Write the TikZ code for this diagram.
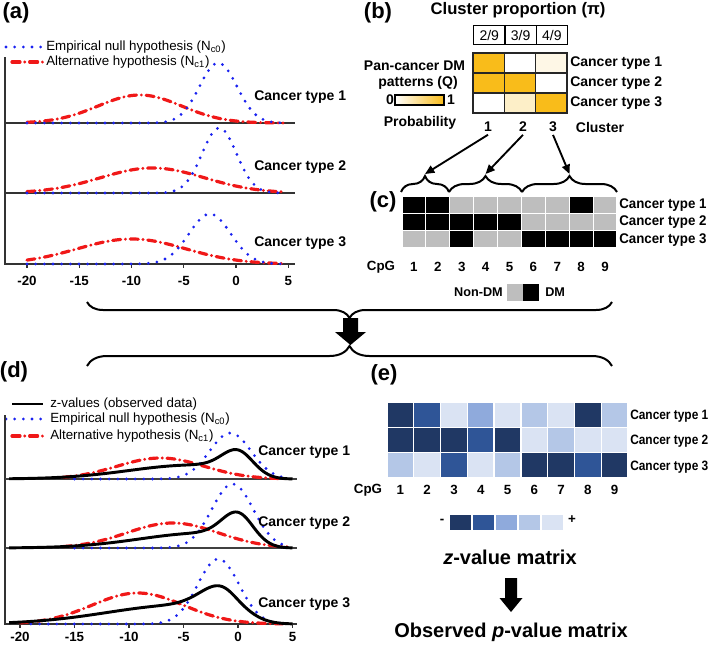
\documentclass[tikz,border=0pt]{standalone}
\usepackage{fontspec}
\setmainfont{Liberation Sans}
\usetikzlibrary{decorations.pathreplacing,arrows.meta}
\definecolor{qorange}{HTML}{F9BC1A}
\definecolor{qpale}{HTML}{FDEFC8}
\definecolor{qvpale}{HTML}{FEF7E6}
\definecolor{dmgray}{HTML}{BEBEBE}
\definecolor{zA}{HTML}{203864}
\definecolor{zB}{HTML}{2F5597}
\definecolor{zC}{HTML}{8FAADC}
\definecolor{zD}{HTML}{B4C7E7}
\definecolor{zE}{HTML}{DAE3F3}
\definecolor{nullblue}{HTML}{1A22F0}
\definecolor{altred}{HTML}{F01818}
\begin{document}
\begin{tikzpicture}[x=0.75pt,y=-0.75pt,
  panel/.style={font=\fontsize{16.5}{18}\selectfont\bfseries, inner sep=0},
  lgd/.style={font=\fontsize{10}{12}\selectfont, anchor=west, inner sep=0},
  ctype/.style={font=\fontsize{10.5}{12}\selectfont\bfseries, anchor=west, inner sep=0},
  blab/.style={font=\fontsize{10.5}{12}\selectfont\bfseries, inner sep=0},
  tick/.style={font=\fontsize{10}{12}\selectfont\bfseries, inner sep=0},
  big/.style={font=\fontsize{15}{18}\selectfont\bfseries, inner sep=0},
  nullc/.style={draw=nullblue, line width=2.3pt, line cap=round, dash pattern=on 0pt off 6.5pt},
  altc/.style={draw=altred, line width=2.4pt, line cap=round, dash pattern=on 6pt off 3.6pt on 0pt off 3.6pt},
  obsc/.style={draw=black, line width=2.2pt},
  axisl/.style={draw=black!80, line width=0.8pt},
  bracel/.style={draw=black, line width=1.5pt, decorate},
  clarrow/.style={-{Triangle[length=7pt,width=6pt]}, line width=1.4pt},
  qgrid/.style={line width=1.1pt, draw=black!85},
]
\useasboundingbox (0,0) rectangle (709,646);

%================ (a) =================
\node[panel] (la) at (16,13) {(a)};
\draw[nullc] (6,47) -- (43,47);
\node[lgd] (la1) at (46,47) {Empirical null hypothesis (N\textsubscript{c0})};
\draw[altc] (12,62) -- (43,62);
\node[lgd] (la2) at (46,62) {Alternative hypothesis (N\textsubscript{c1})};
\draw[axisl] (5,57) -- (5,264) -- (295,264);
\draw[axisl] (5,123) -- (295,123);
\draw[axisl] (5,193) -- (295,193);
\foreach \z [count=\i] in {-20,-15,-10,-5,0,5} {
  \draw[axisl] ({236+10.45*\z},264) -- ++(0,4);
  \node[tick] (ta\i) at ({236+10.45*\z},281) {\z};
}
% panel 1
\draw[altc] plot[domain=-20:4.5,samples=120,smooth] ({236+10.45*\x},{123-28*exp(-0.5*((\x+9.2)/4)^2)});
\draw[nullc] plot[domain=-20:4.5,samples=120,smooth] ({236+10.45*\x},{123-60*exp(-0.5*((\x+1.7)/1.8)^2)});
% panel 2
\draw[altc] plot[domain=-20:4.5,samples=120,smooth] ({236+10.45*\x},{193-25*exp(-0.5*((\x+8)/5)^2)});
\draw[nullc] plot[domain=-20:4.5,samples=120,smooth] ({236+10.45*\x},{193-65*exp(-0.5*((\x+1.6)/1.65)^2)});
% panel 3
\draw[altc] plot[domain=-20:4.5,samples=120,smooth] ({236+10.45*\x},{264-25*exp(-0.5*((\x+10)/5.2)^2)});
\draw[nullc] plot[domain=-20:4.5,samples=120,smooth] ({236+10.45*\x},{264-50*exp(-0.5*((\x+2.5)/2)^2)});
\node[ctype] (a1) at (254,97) {Cancer type 1};
\node[ctype] (a2) at (254,167) {Cancer type 2};
\node[ctype] (a3) at (254,243) {Cancer type 3};

%================ (b) =================
\node[panel] (lb) at (378,13) {(b)};
\node[font=\fontsize{12.5}{14}\selectfont\bfseries, inner sep=0] (cp) at (518,10) {Cluster proportion (π)};
\foreach \t [count=\i] in {2/9,3/9,4/9} {
  \node[draw, line width=0.9pt, minimum width=31.33*0.75pt, minimum height=19*0.75pt, inner sep=0,
        font=\fontsize{10.5}{12}\selectfont, anchor=north west] (pr\i) at ({473+(\i-1)*31.33},25) {\t};
}
\foreach \cl [count=\r] in {{qorange,white,qvpale},{qorange,qorange,white},{white,qpale,qorange}} {
  \foreach \cc [count=\c] in \cl {
    \fill[\cc] ({473+(\c-1)*31.33},{53+(\r-1)*20}) rectangle ++(31.33,20);
  }
}
\draw[qgrid] (504.33,53) -- (504.33,113);
\draw[qgrid] (535.67,53) -- (535.67,113);
\draw[qgrid] (473,73) -- (567,73);
\draw[qgrid] (473,93) -- (567,93);
\draw[qgrid] (473,53) rectangle (567,113);
\node[ctype] (b1) at (570,63) {Cancer type 1};
\node[ctype] (b2) at (570,83) {Cancer type 2};
\node[ctype] (b3) at (570,103) {Cancer type 3};
\node[blab] (pq1) at (414.5,66) {Pan-cancer DM};
\node[blab] (pq2) at (418,83) {patterns (Q)};
\node[blab] (z0) at (390,100) {0};
\shade[left color=white, right color=qorange] (395,95) rectangle (444,105);
\draw[line width=0.8pt] (395,95) rectangle (444,105);
\node[blab] (z1) at (451,100) {1};
\node[blab] (prob) at (420,123) {Probability};
\node[blab] (cl1) at (488,127) {1};
\node[blab] (cl2) at (523,127) {2};
\node[blab] (cl3) at (553,127) {3};
\node[blab] (clt) at (600,127) {Cluster};

%================ (c) =================
\node[panel] (lc) at (383,202) {(c)};
\draw[bracel, decoration={brace, amplitude=12pt}] (401,192) -- (449,192);
\draw[bracel, decoration={brace, amplitude=12pt}] (449,192) -- (522,192);
\draw[bracel, decoration={brace, amplitude=12pt}] (522,192) -- (617,192);
\coordinate (br1) at (425,174);
\coordinate (br2) at (485.5,174);
\coordinate (br3) at (569.5,174);
\draw[clarrow] ([yshift=-2pt]cl1.south) -- (br1);
\draw[clarrow] ([yshift=-2pt]cl2.south) -- (br2);
\draw[clarrow] ([yshift=-2pt]cl3.south) -- (br3);
\foreach \cl [count=\r] in {{black,black,dmgray,dmgray,dmgray,dmgray,dmgray,black,dmgray},
                           {black,black,black,black,black,dmgray,dmgray,dmgray,dmgray},
                           {dmgray,dmgray,black,dmgray,dmgray,black,black,black,black}} {
  \foreach \cc [count=\c] in \cl {
    \fill[\cc, draw=white, line width=0.8pt] ({402+(\c-1)*23.89},{196+(\r-1)*17.33}) rectangle ++(23.89,17.33);
  }
}
\node[ctype] (c1) at (619,205) {\scalebox{0.95}[1]{Cancer type 1}};
\node[ctype] (c2) at (619,222) {\scalebox{0.95}[1]{Cancer type 2}};
\node[ctype] (c3) at (619,240) {\scalebox{0.95}[1]{Cancer type 3}};
\node[tick] (cpgc) at (381,267) {CpG};
\foreach \i in {1,...,9} {
  \node[tick] (cn\i) at ({402+(\i-0.5)*23.89},267) {\i};
}
\node[tick, anchor=east, font=\fontsize{9.5}{11}\selectfont\bfseries] (ndm) at (503,292) {Non-DM};
\fill[dmgray] (507,284) rectangle (523,301);
\fill[black] (523,284) rectangle (539,301);
\node[tick, anchor=west, font=\fontsize{9.5}{11}\selectfont\bfseries] (dm) at (545,292) {DM};

%================ middle braces and arrow =================
\draw[bracel, decoration={brace, amplitude=12pt}] (612,302) -- (87,302);
\fill (343,318) -- (358,318) -- (358,332) -- (366,332) -- (350.5,345) -- (335,332) -- (343,332) -- cycle;
\draw[bracel, decoration={brace, amplitude=15pt}] (87,366) -- (612,366);

%================ (d) =================
\node[panel] (ld) at (14,372) {(d)};
\draw[obsc] (12,404) -- (43,404);
\node[lgd] (ld1) at (50,404) {z-values (observed data)};
\draw[nullc] (6,419) -- (45,419);
\node[lgd] (ld2) at (50,419) {Empirical null hypothesis (N\textsubscript{c0})};
\draw[altc] (12,436) -- (43,436);
\node[lgd] (ld3) at (50,436) {Alternative hypothesis (N\textsubscript{c1})};
\draw[axisl] (5,415) -- (5,624) -- (297,624);
\draw[draw=black!75, line width=1.3pt] (5,479) -- (297,479);
\draw[draw=black!75, line width=1.3pt] (5,548) -- (297,548);
\foreach \z [count=\i] in {-20,-15,-10,-5,0,5} {
  \draw[axisl] ({238+10.9*\z},624) -- ++(0,4);
  \node[tick] (td\i) at ({238+10.9*\z},637) {\z};
}
% panel 1
\draw[altc] plot[domain=-16:4.5,samples=120,smooth] ({238+10.9*\x},{479-21*exp(-0.5*((\x+7.1)/4)^2)});
\draw[nullc] plot[domain=-15:4.5,samples=120,smooth] ({238+10.9*\x},{479-46*exp(-0.5*((\x+0.7)/1.9)^2)});
\draw[obsc] plot[domain=-21:5,samples=150,smooth] ({238+10.9*\x},{479-(20*exp(-0.5*((\x-0.1)/1.5)^2)+14*exp(-0.5*((\x+4)/6)^2)/(1+exp(1.5*(\x-1))))});
% panel 2
\draw[altc] plot[domain=-16:4.5,samples=120,smooth] ({238+10.9*\x},{548-25*exp(-0.5*((\x+6)/4.2)^2)});
\draw[nullc] plot[domain=-15:4.5,samples=120,smooth] ({238+10.9*\x},{548-64*exp(-0.5*((\x+0.5)/1.9)^2)});
\draw[obsc] plot[domain=-21:5,samples=150,smooth] ({238+10.9*\x},{548-(25*exp(-0.5*((\x-0.1)/1.5)^2)+15*exp(-0.5*((\x+3)/6)^2)/(1+exp(1.5*(\x-1))))});
% panel 3
\draw[altc] plot[domain=-20:4.5,samples=120,smooth] ({238+10.9*\x},{624-31*exp(-0.5*((\x+9.2)/4.2)^2)});
\draw[nullc] plot[domain=-19:4.5,samples=120,smooth] ({238+10.9*\x},{624-65*exp(-0.5*((\x+1.8)/1.9)^2)});
\draw[obsc] plot[domain=-21:5,samples=150,smooth] ({238+10.9*\x},{624-(24*exp(-0.5*((\x+1.3)/2)^2)+19*exp(-0.5*((\x+5)/7)^2)/(1+exp(1.5*(\x+0.5))))});
\node[ctype] (d1) at (258,452) {Cancer type 1};
\node[ctype] (d2) at (258,523) {Cancer type 2};
\node[ctype] (d3) at (258,604) {Cancer type 3};

%================ (e) =================
\node[panel] (le) at (384,375) {(e)};
\foreach \cl [count=\r] in {{zA,zB,zE,zC,zE,zD,zE,zA,zD},
                           {zA,zA,zA,zB,zA,zE,zD,zE,zE},
                           {zD,zE,zB,zE,zD,zA,zA,zB,zA}} {
  \foreach \cc [count=\c] in \cl {
    \fill[\cc, draw=white, line width=1pt] ({387+(\c-1)*26.78},{402+(\r-1)*25.33}) rectangle ++(26.78,25.33);
  }
}
\node[ctype] (e1) at (630,416) {\scalebox{0.85}[0.97]{Cancer type 1}};
\node[ctype] (e2) at (630,441) {\scalebox{0.85}[0.97]{Cancer type 2}};
\node[ctype] (e3) at (630,467) {\scalebox{0.85}[0.97]{Cancer type 3}};
\node[tick] (cpge) at (368,490) {CpG};
\foreach \i in {1,...,9} {
  \node[tick] (en\i) at ({387+(\i-0.5)*26.78},490) {\i};
}
\node[tick] (emin) at (442,521) {-};
\foreach \cc [count=\i] in {zA,zB,zC,zD,zE} {
  \fill[\cc, draw=white, line width=1pt] ({449+(\i-1)*23},514) rectangle ++(23,17);
}
\node[tick] (eplus) at (572,520) {+};
\node[big] (zmat) at (510,557) {\textit{z}-value matrix};
\fill (505,578) -- (517,578) -- (517,598) -- (522.5,598) -- (511,612) -- (499.5,598) -- (505,598) -- cycle;
\node[big] (pmat) at (511,632) {Observed \textit{p}-value matrix};
\end{tikzpicture}
\end{document}
